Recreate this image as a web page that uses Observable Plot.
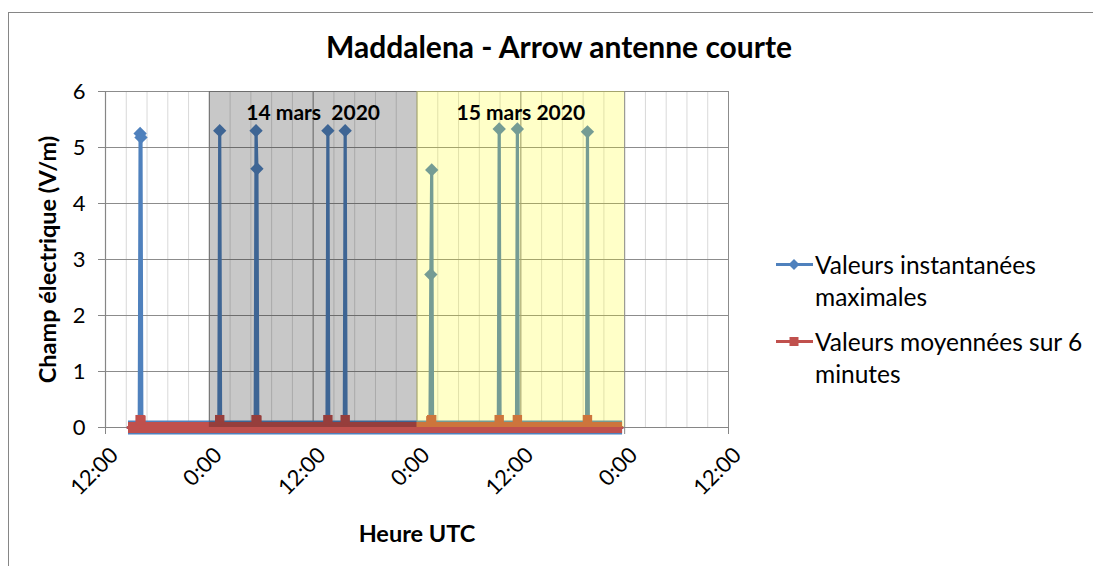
<!DOCTYPE html>
<html>
<head>
<meta charset="utf-8">
<script src="https://cdn.jsdelivr.net/npm/d3@7"></script>
<script src="https://cdn.jsdelivr.net/npm/@observablehq/plot@0.6"></script>
<style>
  body { margin: 0; background: #fff; font-family: Lato, "Open Sans", sans-serif; }
  #wrap { position: relative; width: 1093px; height: 566px; overflow: hidden; background: #fff; }
  #frame { position: absolute; left: 8px; top: 12px; width: 1200px; height: 700px;
           border-left: 1.5px solid #868686; border-top: 1.5px solid #868686; }
  #title { position: absolute; top: 28px; left: 0; width: 1118px; text-align: center;
           font-weight: bold; font-size: 30px; line-height: 36px; color: #000; }
  #chart { position: absolute; left: 0; top: 70px; }
  .leg { position: absolute; left: 776px; font-size: 24.5px; line-height: 32px; color: #000; }
  .leg svg { position: absolute; left: 0; top: 0; }
  .leg div { margin-left: 39px; white-space: nowrap; }
  g[aria-label="x-axis label"] text, g[aria-label="y-axis label"] text { font-weight: bold; font-size: 23.5px; }
</style>
</head>
<body>
<div id="wrap">
  <div id="frame"></div>
  <div id="title"></div>
  <div id="chart"></div>
  <div id="legend"></div>
</div>
<script>
// ---- data ----
const chartTitle = "Maddalena - Arrow antenne courte";
const xLabel = "Heure UTC";
const yLabel = "Champ électrique (V/m)";
const seriesNames = ["Valeurs instantanées maximales", "Valeurs moyennées sur 6 minutes"];
const seriesLegendLines = [["Valeurs instantanées", "maximales"], ["Valeurs moyennées sur 6", "minutes"]];

const times = [
  "2020-03-13T14:36Z",
  "2020-03-13T15:54Z", "2020-03-13T16:00Z", "2020-03-13T16:06Z", "2020-03-13T16:12Z",
  "2020-03-14T01:06Z", "2020-03-14T01:12Z", "2020-03-14T01:18Z",
  "2020-03-14T05:18Z", "2020-03-14T05:24Z", "2020-03-14T05:30Z", "2020-03-14T05:36Z",
  "2020-03-14T13:36Z", "2020-03-14T13:42Z", "2020-03-14T13:48Z",
  "2020-03-14T15:36Z", "2020-03-14T15:42Z", "2020-03-14T15:48Z",
  "2020-03-15T01:30Z", "2020-03-15T01:36Z", "2020-03-15T01:42Z", "2020-03-15T01:48Z",
  "2020-03-15T09:24Z", "2020-03-15T09:30Z", "2020-03-15T09:36Z",
  "2020-03-15T11:30Z", "2020-03-15T11:36Z", "2020-03-15T11:42Z",
  "2020-03-15T19:36Z", "2020-03-15T19:42Z", "2020-03-15T19:48Z",
  "2020-03-15T23:42Z"
];
const maxValues = [
  0,
  0, 5.25, 5.18, 0,
  0, 5.30, 0,
  0, 5.30, 4.62, 0,
  0, 5.30, 0,
  0, 5.30, 0,
  0, 2.73, 4.60, 0,
  0, 5.33, 0,
  0, 5.33, 0,
  0, 5.28, 0,
  0
];
const meanValues = [
  0,
  0, 0.14, 0.13, 0,
  0, 0.14, 0,
  0, 0.14, 0.13, 0,
  0, 0.14, 0,
  0, 0.14, 0,
  0, 0.12, 0.14, 0,
  0, 0.14, 0,
  0, 0.14, 0,
  0, 0.14, 0,
  0
];

const xDomain = ["2020-03-13T12:00Z", "2020-03-16T12:00Z"];
const xMajorTicks = ["2020-03-13T12:00Z", "2020-03-14T00:00Z", "2020-03-14T12:00Z", "2020-03-15T00:00Z",
                     "2020-03-15T12:00Z", "2020-03-16T00:00Z", "2020-03-16T12:00Z"];
const yTicks = [0, 1, 2, 3, 4, 5, 6];

const dayLabels = ["14 mars  2020", "15 mars 2020"];
const dayStarts = ["2020-03-14T00:00Z", "2020-03-15T00:00Z"];
const dayEnds = ["2020-03-15T00:00Z", "2020-03-16T00:00Z"];

// ---- build ----
const P = s => new Date(s);
const maxData = times.map((t, i) => ({t: P(t), v: maxValues[i]}));
const meanData = times.map((t, i) => ({t: P(t), v: meanValues[i]}));
const baseline = [maxData[0], maxData[maxData.length - 1]].map(d => ({t: d.t, v: 0}));
const x0 = P(xDomain[0]), x1 = P(xDomain[1]);
const DAY = 86400000;
const minorTicks = d3.range(0, Math.round((x1 - x0) / (DAY / 10)) + 1).map(i => new Date(+x0 + i * DAY / 10));
const majors = xMajorTicks.map(P);
const days = dayLabels.map((l, i) => ({label: l, a: P(dayStarts[i]), b: P(dayEnds[i]), mid: new Date((+P(dayStarts[i]) + +P(dayEnds[i])) / 2)}));

const blue = "#4f81bd", red = "#c0504d";

document.getElementById("title").textContent = chartTitle;

const plot = Plot.plot({
  width: 760, height: 496,
  marginLeft: 105, marginRight: 32, marginTop: 21, marginBottom: 139,
  style: {fontFamily: "Lato, 'Open Sans', sans-serif", background: "transparent", overflow: "visible", color: "#000"},
  x: {type: "utc", domain: [x0, x1]},
  y: {domain: [0, 6]},
  marks: [
    Plot.gridX(minorTicks, {stroke: "#d9d9d9", strokeOpacity: 1, strokeWidth: 1}),
    Plot.gridY(yTicks, {stroke: "#8c8c8c", strokeOpacity: 1, strokeWidth: 1}),
    Plot.gridX(majors, {stroke: "#8c8c8c", strokeOpacity: 1, strokeWidth: 1}),
    Plot.ruleX([x0], {stroke: "#868686", strokeWidth: 1.2}),
    Plot.ruleY([0], {stroke: "#868686", strokeWidth: 1.2}),
    Plot.axisY({ticks: yTicks, tickFormat: d => String(d), tickSize: 7, tickPadding: 13, stroke: "#868686", fill: "#000", fontSize: 22,
                label: yLabel, labelAnchor: "center", labelArrow: "none", labelOffset: 66}),
    // x tick marks
    Plot.axisX({ticks: majors, tickFormat: () => "", tickSize: 7, stroke: "#868686", label: null}),
    // x tick labels (rotated, nudged)
    Plot.axisX({ticks: majors, tickFormat: d3.utcFormat("%-H:%M"), tickRotate: -45, tickSize: 0, tickPadding: 24, dx: 9,
                fill: "#000", fontSize: 22,
                label: xLabel, labelAnchor: "center", labelArrow: "none", labelOffset: 114}),
    // instantaneous max series
    Plot.line(baseline, {x: "t", y: "v", stroke: blue, strokeWidth: 14, strokeLinecap: "butt"}),
    Plot.line(maxData, {x: "t", y: "v", stroke: blue, strokeWidth: 3.2, strokeLinejoin: "miter"}),
    Plot.dot(maxData.filter(d => d.v > 0.5), {x: "t", y: "v", symbol: "diamond2", r: 6, fill: blue}),
    // 6-minute mean series
    Plot.line(baseline, {x: "t", y: "v", stroke: red, strokeWidth: 11, strokeLinecap: "butt"}),
    Plot.line(meanData, {x: "t", y: "v", stroke: red, strokeWidth: 3.2}),
    Plot.dot(meanData.filter(d => d.v > 0.05), {x: "t", y: "v", symbol: "square", r: 5.3, fill: red}),
    // day shading (overlay)
    Plot.rect([days[0]], {x1: "a", x2: "b", y1: 0, y2: 6, fill: "#000", fillOpacity: 0.215}),
    Plot.rect([days[1]], {x1: "a", x2: "b", y1: 0, y2: 6, fill: "#ffff00", fillOpacity: 0.215}),
    Plot.text(days, {x: "mid", y: 5.62, text: "label", fontWeight: "bold", fontSize: 21, fill: "#000"})
  ]
});
document.getElementById("chart").appendChild(plot);

// legend
const legend = document.getElementById("legend");
const tops = [249, 326];
[[blue, "diamond"], [red, "square"]].forEach(([c, sym], i) => {
  const item = document.createElement("div");
  item.className = "leg";
  item.style.top = tops[i] + "px";
  const mk = sym === "diamond"
    ? `<path d="M18,10 L23.5,15.5 L18,21 L12.5,15.5 Z" fill="${c}"/>`
    : `<rect x="13.5" y="11" width="9" height="9" fill="${c}"/>`;
  item.innerHTML = `<svg width="38" height="32"><line x1="0" x2="37" y1="15.5" y2="15.5" stroke="${c}" stroke-width="3"/>${mk}</svg>` +
    seriesLegendLines[i].map(l => `<div>${l}</div>`).join("");
  item.setAttribute("aria-label", seriesNames[i]);
  legend.appendChild(item);
});
</script>
</body>
</html>
